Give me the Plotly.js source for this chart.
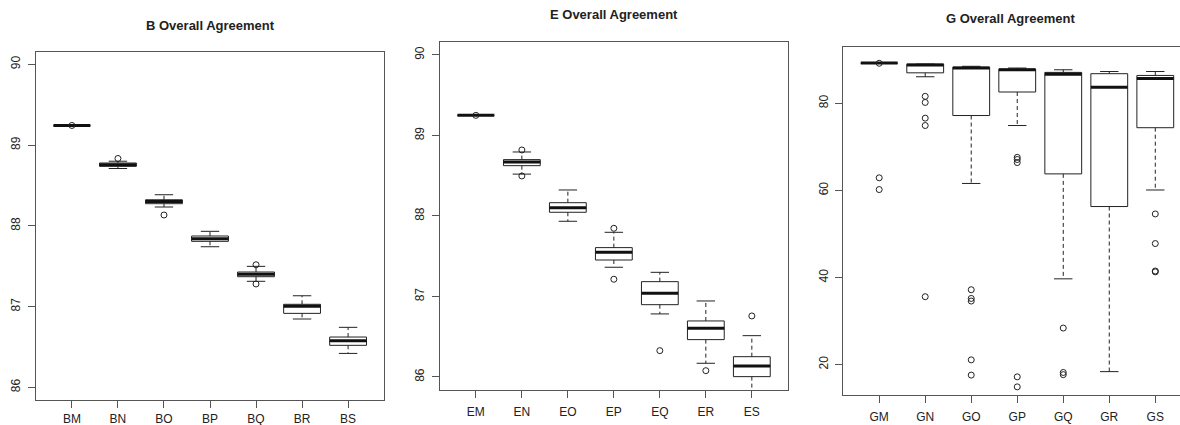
<!DOCTYPE html>
<html>
<head>
<meta charset="utf-8">
<script src="https://cdn.plot.ly/plotly-3.0.1.min.js"></script>
<style>html,body{margin:0;padding:0;background:#fff;}#chart{width:1180px;height:425px;}</style>
</head>
<body>
<div id="chart"></div>
<script>
// ---------- data ----------
const catsB = ['BM','BN','BO','BP','BQ','BR','BS'];
const lowerB  = [89.24, 88.71, 88.233, 87.741, 87.313, 86.846, 86.42];
const q1B     = [89.24, 88.737, 88.274, 87.808, 87.37, 86.916, 86.52];
const medB    = [89.243, 88.755, 88.30, 87.84, 87.40, 87.003, 86.577];
const q3B     = [89.246, 88.778, 88.323, 87.874, 87.428, 87.028, 86.623];
const upperB  = [89.246, 88.80, 88.385, 87.932, 87.498, 87.134, 86.743];
const outB    = [[89.243], [88.834], [88.134], [], [87.518, 87.28], [], []];

const catsE = ['EM','EN','EO','EP','EQ','ER','ES'];
const lowerE  = [89.25, 88.52, 87.934, 87.363, 86.783, 86.17, 85.75];
const q1E     = [89.25, 88.625, 88.046, 87.453, 86.898, 86.464, 86.004];
const medE    = [89.25, 88.671, 88.103, 87.549, 87.04, 86.605, 86.137];
const q3E     = [89.252, 88.70, 88.165, 87.607, 87.184, 86.696, 86.252];
const upperE  = [89.252, 88.795, 88.323, 87.797, 87.30, 86.944, 86.513];
const outE    = [[89.25], [88.82, 88.497], [], [87.847, 87.214], [86.327], [86.078], [86.758]];

const catsG = ['GM','GN','GO','GP','GQ','GR','GS'];
const lowerG  = [89.2, 86.1, 61.6, 74.9, 39.7, 18.4, 60.1];
const q1G     = [89.2, 87.0, 77.2, 82.6, 63.8, 56.3, 74.4];
const medG    = [89.25, 88.8, 88.1, 87.7, 86.7, 83.7, 85.7];
const q3G     = [89.3, 89.0, 88.3, 87.85, 87.1, 86.8, 86.4];
const upperG  = [89.3, 89.0, 88.5, 88.1, 87.7, 87.3, 87.3];
const outG    = [[89.2, 62.9, 60.2], [81.6, 80.2, 76.6, 74.9, 35.6], [37.2, 35.2, 34.6, 21.1, 17.6],
                 [67.6, 67.1, 66.4, 17.2, 14.9], [28.4, 18.2, 17.7], [], [54.6, 47.8, 41.5, 41.3]];

// ---------- drawing helpers ----------
const INK = '#222';
const FRAME = '#555';
const FONT = 'Liberation Sans, Arial, Helvetica, sans-serif';

function panelTraces(cats, lo, q1, med, q3, up, outs, xa, ya) {
  const bx = [], by = [], mx = [], my = [], wx = [], wy = [], cx = [], cy = [], ox = [], oy = [];
  const hw = 0.4, cw = 0.2;
  cats.forEach((c, k) => {
    const i = k + 1;
    bx.push(i - hw, i + hw, i + hw, i - hw, i - hw, null);
    by.push(q1[k], q1[k], q3[k], q3[k], q1[k], null);
    mx.push(i - hw, i + hw, null); my.push(med[k], med[k], null);
    wx.push(i, i, null, i, i, null); wy.push(q3[k], up[k], null, q1[k], lo[k], null);
    cx.push(i - cw, i + cw, null, i - cw, i + cw, null); cy.push(up[k], up[k], null, lo[k], lo[k], null);
    outs[k].forEach(v => { ox.push(i); oy.push(v); });
  });
  const base = {type: 'scatter', xaxis: xa, yaxis: ya, hoverinfo: 'skip', showlegend: false, cliponaxis: true};
  return [
    Object.assign({}, base, {x: wx, y: wy, mode: 'lines', line: {color: INK, width: 1, dash: '4px,3px'}}),
    Object.assign({}, base, {x: cx, y: cy, mode: 'lines', line: {color: INK, width: 1}}),
    Object.assign({}, base, {x: bx, y: by, mode: 'lines', line: {color: INK, width: 1}, fill: 'none'}),
    Object.assign({}, base, {x: mx, y: my, mode: 'lines', line: {color: '#111', width: 3}}),
    Object.assign({}, base, {x: ox, y: oy, mode: 'markers',
      marker: {symbol: 'circle-open', size: 6, color: INK, line: {width: 1, color: INK}}})
  ];
}

const traces = [].concat(
  panelTraces(catsB, lowerB, q1B, medB, q3B, upperB, outB, 'x', 'y'),
  panelTraces(catsE, lowerE, q1E, medE, q3E, upperE, outE, 'x2', 'y2'),
  panelTraces(catsG, lowerG, q1G, medG, q3G, upperG, outG, 'x3', 'y3')
);

function xAxis(dom, cats, range, anchor, mirror, standoff) {
  return {domain: dom, anchor: anchor, range: range, tickvals: cats.map((c, k) => k + 1), ticktext: cats,
    showgrid: false, zeroline: false, showline: true, linecolor: FRAME, linewidth: 1, mirror: mirror,
    ticks: 'outside', ticklen: 7, tickcolor: FRAME, tickfont: {family: FONT, size: 12, color: INK},
    ticklabelstandoff: standoff, fixedrange: true};
}
function yAxis(dom, range, anchor, tickvals, mirror) {
  return {domain: dom, anchor: anchor, range: range, tickvals: tickvals, ticktext: tickvals.map(String),
    showgrid: false, zeroline: false, showline: true, linecolor: FRAME, linewidth: 1, mirror: mirror,
    ticks: 'outside', ticklen: 7, tickcolor: FRAME, tickangle: -90,
    tickfont: {family: FONT, size: 12, color: INK}, ticklabelstandoff: 3, fixedrange: true};
}

const W = 1180, H = 425;
const layout = {
  width: W, height: H, margin: {l: 0, r: 0, t: 0, b: 0},
  paper_bgcolor: '#fff', plot_bgcolor: '#fff', showlegend: false,
  xaxis:  xAxis([36 / W, 384 / W], catsB, [0.22, 7.78], 'y', true, 1),
  yaxis:  yAxis([25 / H, 372.7 / H], [85.843, 90.149], 'x', [86, 87, 88, 89, 90], true),
  xaxis2: xAxis([440 / W, 787.7 / W], catsE, [0.22, 7.78], 'y2', true, 4),
  yaxis2: yAxis([35 / H, 383.3 / H], [85.838, 90.165], 'x2', [86, 87, 88, 89, 90], true),
  xaxis3: xAxis([843.3 / W, 1], catsG, [0.22, 7.537], 'y3', true, 4),
  yaxis3: yAxis([30 / H, 378.3 / H], [13.03, 93.0], 'x3', [20, 40, 60, 80], false),
  annotations: [
    {text: '<b>B Overall Agreement</b>', x: 210 / W, y: 1 - 25 / H},
    {text: '<b>E Overall Agreement</b>', x: 614 / W, y: 1 - 15 / H},
    {text: '<b>G Overall Agreement</b>', x: 1011 / W, y: 1 - 19 / H}
  ].map(a => Object.assign(a, {xref: 'paper', yref: 'paper', xanchor: 'center', yanchor: 'middle',
    showarrow: false, font: {family: FONT, size: 13, color: INK}}))
};

Plotly.newPlot('chart', traces, layout, {staticPlot: true, displayModeBar: false});
</script>
</body>
</html>
